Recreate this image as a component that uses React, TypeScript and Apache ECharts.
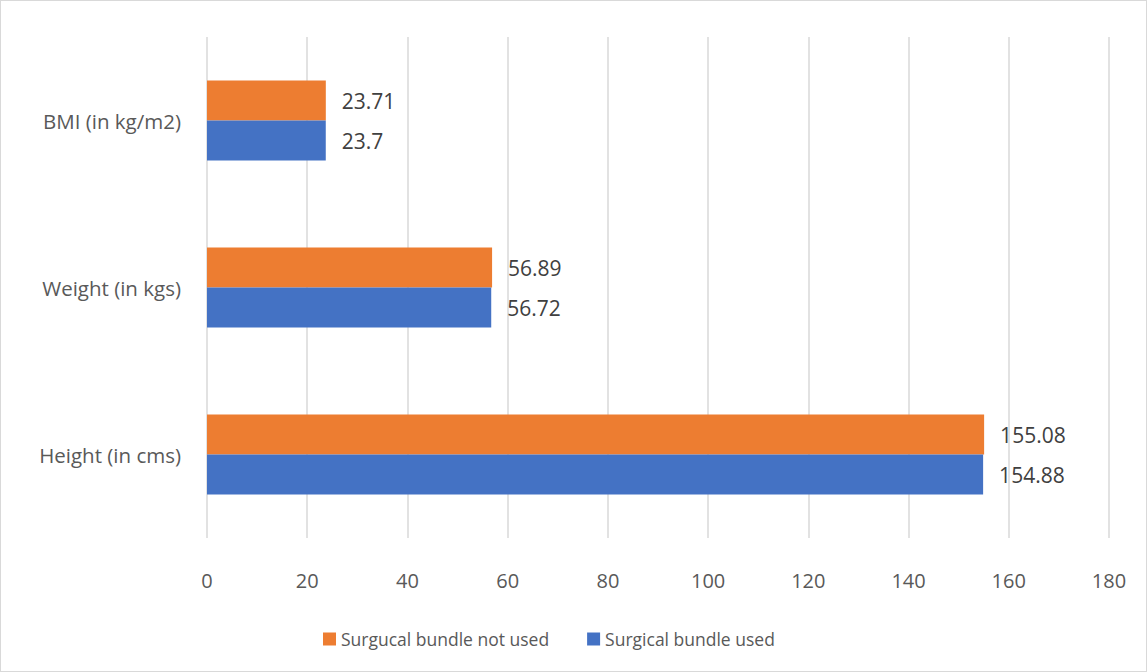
import React, { useEffect, useRef } from "react";
import * as echarts from "echarts";

const categories = ["Height (in cms)", "Weight (in kgs)", "BMI (in kg/m2)"];
const usedValues = [154.88, 56.72, 23.7];
const notUsedValues = [155.08, 56.89, 23.71];
const seriesNames = ["Surgucal bundle not used", "Surgical bundle used"];

const FONT = "'Open Sans', 'Noto Sans', sans-serif";

export default function App() {
  const ref = useRef<HTMLDivElement>(null);
  useEffect(() => {
    if (!ref.current) return;
    const chart = echarts.init(ref.current, null, { renderer: "svg" });
    const labelStyle = {
      show: true,
      position: "right",
      distance: 16,
      fontSize: 21,
      color: "#404040",
      fontFamily: FONT,
    };
    chart.setOption({
      animation: false,
      textStyle: { fontFamily: FONT },
      grid: { left: 206, right: 37, top: 36, bottom: 133, containLabel: false },
      legend: {
        data: [seriesNames[0], seriesNames[1]],
        top: 624,
        left: 317,
        itemWidth: 13,
        itemHeight: 13,
        itemGap: 38,
        icon: "rect",
        textStyle: { fontSize: 17.5, color: "#595959", fontFamily: FONT },
      },
      xAxis: {
        type: "value",
        min: 0,
        max: 180,
        interval: 20,
        axisLine: { show: false },
        axisTick: { show: false },
        axisLabel: { fontSize: 20, color: "#595959", margin: 32, fontFamily: FONT },
        splitLine: { show: true, lineStyle: { color: "#d9d9d9", width: 1.5 } },
      },
      yAxis: {
        type: "category",
        data: categories,
        axisLine: { show: false },
        axisTick: { show: false },
        axisLabel: { fontSize: 20.5, color: "#595959", margin: 26, fontFamily: FONT },
      },
      series: [
        {
          name: seriesNames[0],
          type: "bar",
          data: notUsedValues,
          barWidth: 40,
          barGap: "0%",
          itemStyle: { color: "#ed7d31" },
          label: labelStyle,
        },
        {
          name: seriesNames[1],
          type: "bar",
          data: usedValues,
          barWidth: 40,
          barGap: "0%",
          itemStyle: { color: "#4472c4" },
          label: labelStyle,
        },
      ],
    });
    return () => chart.dispose();
  }, []);
  return (
    <div
      style={{
        position: "absolute",
        left: 0,
        top: 0,
        width: 1147,
        height: 672,
        border: "1px solid #d9d9d9",
        boxSizing: "border-box",
        background: "#fff",
      }}
    >
      <div ref={ref} style={{ width: 1145, height: 670 }} />
    </div>
  );
}
